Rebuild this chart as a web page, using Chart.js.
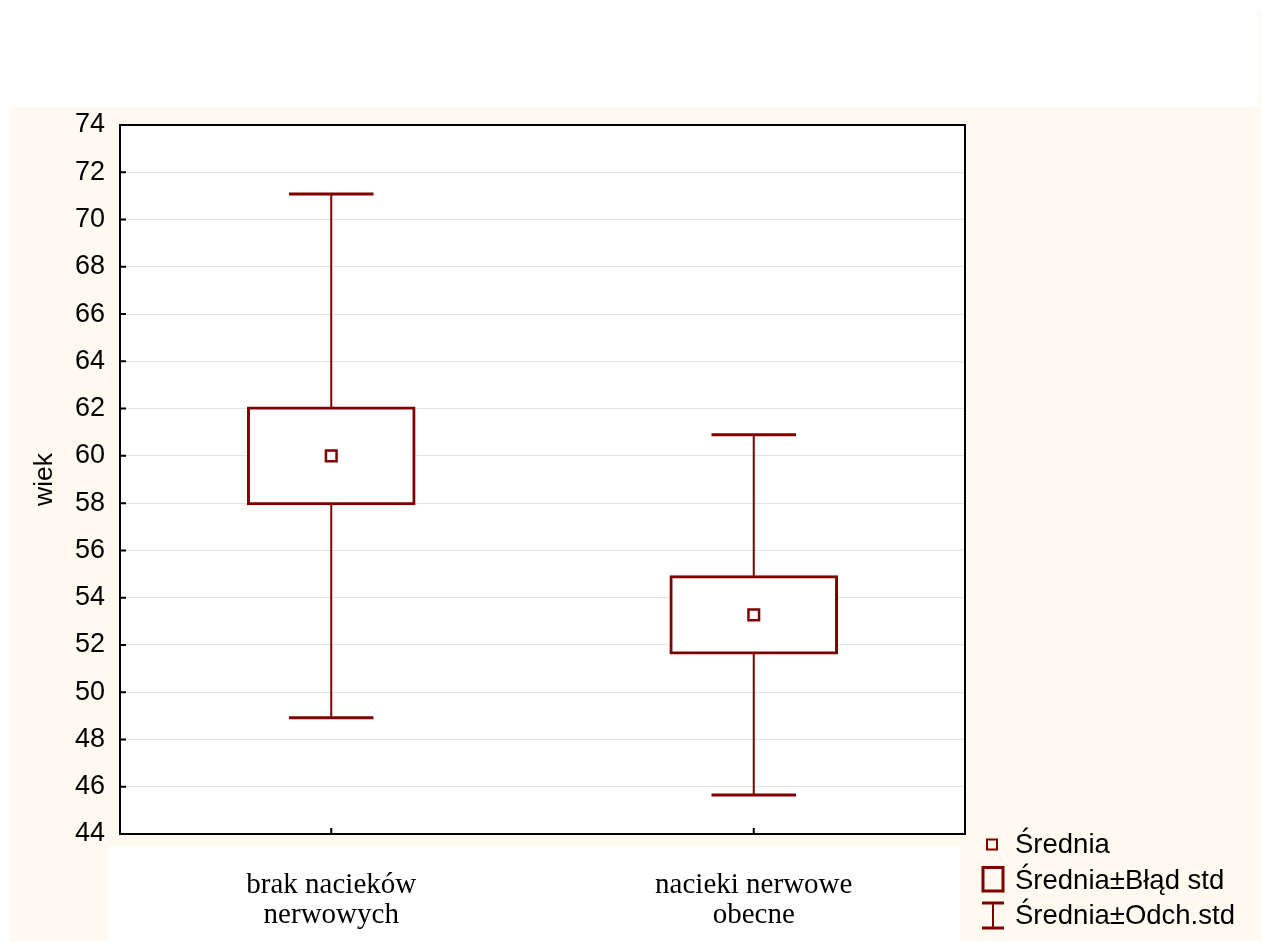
<!DOCTYPE html>
<html>
<head>
<meta charset="utf-8">
<script src="https://cdn.jsdelivr.net/npm/chart.js@4"></script>
<style>
  html, body { margin: 0; padding: 0; background: #ffffff; }
  canvas { display: block; }
</style>
</head>
<body>
<canvas id="c" width="1261" height="941"></canvas>
<script>
// Age by group: mean, standard error and standard deviation
const categories = [['brak nacieków', 'nerwowych'], ['nacieki nerwowe', 'obecne']];
const means = [60.0, 53.27];
const stdErr = [2.03, 1.61];
const stdDev = [11.08, 7.62];
const yTicks = [44, 46, 48, 50, 52, 54, 56, 58, 60, 62, 64, 66, 68, 70, 72, 74];
const legendLabels = ['Średnia', 'Średnia±Błąd std', 'Średnia±Odch.std'];

const MAROON = '#800000';
const CREAM = '#fffaf0';
const SANS = '"Liberation Sans", Arial, sans-serif';
const SERIF = '"Liberation Serif", "Times New Roman", serif';

const boxRanges = means.map((m, i) => [m - stdErr[i], m + stdErr[i]]);

// Page background panels behind the plot
const backdrop = {
  id: 'backdrop',
  beforeDraw(chart) {
    const ctx = chart.ctx;
    const W = chart.width, H = chart.height;
    const a = chart.chartArea;
    ctx.save();
    ctx.fillStyle = '#ffffff';
    ctx.fillRect(0, 0, W, H);
    ctx.fillStyle = CREAM;
    ctx.fillRect(11, 107, W - 11, H - 107);
    ctx.fillRect(W - 3, 10, 3, 97);
    ctx.fillStyle = '#ffffff';
    ctx.fillRect(108, 846, 852, H - 846);
    ctx.fillRect(a.left, a.top, a.right - a.left, a.bottom - a.top);
    ctx.restore();
  }
};

// Whiskers (mean ± SD) drawn under the boxes
const whiskers = {
  id: 'whiskers',
  beforeDatasetsDraw(chart) {
    const ctx = chart.ctx;
    const xs = chart.scales.x, ys = chart.scales.y;
    const capHalf = (xs.getPixelForValue(1) - xs.getPixelForValue(0)) * 0.1;
    ctx.save();
    ctx.strokeStyle = MAROON;
    means.forEach((m, i) => {
      const x = xs.getPixelForValue(i);
      const yHi = ys.getPixelForValue(m + stdDev[i]);
      const yLo = ys.getPixelForValue(m - stdDev[i]);
      ctx.lineWidth = 2;
      ctx.beginPath();
      ctx.moveTo(x, yHi);
      ctx.lineTo(x, yLo);
      ctx.stroke();
      ctx.lineWidth = 3;
      ctx.beginPath();
      ctx.moveTo(x - capHalf, yHi);
      ctx.lineTo(x + capHalf, yHi);
      ctx.moveTo(x - capHalf, yLo);
      ctx.lineTo(x + capHalf, yLo);
      ctx.stroke();
    });
    ctx.restore();
  }
};

// Plot frame, inward tick marks and the legend
const frameAndLegend = {
  id: 'frameAndLegend',
  afterDraw(chart) {
    const ctx = chart.ctx;
    const a = chart.chartArea;
    const xs = chart.scales.x, ys = chart.scales.y;
    ctx.save();
    ctx.strokeStyle = '#000000';
    ctx.lineWidth = 2;
    ctx.strokeRect(a.left, a.top, a.right - a.left, a.bottom - a.top);
    ctx.beginPath();
    yTicks.forEach(v => {
      const y = ys.getPixelForValue(v);
      ctx.moveTo(a.left, y);
      ctx.lineTo(a.left + 6, y);
    });
    categories.forEach((c, i) => {
      const x = xs.getPixelForValue(i);
      ctx.moveTo(x, a.bottom);
      ctx.lineTo(x, a.bottom - 6);
    });
    ctx.stroke();

    // legend
    ctx.strokeStyle = MAROON;
    ctx.lineWidth = 2;
    ctx.strokeRect(987, 839.5, 10, 10);
    ctx.lineWidth = 3;
    ctx.strokeRect(983, 867.5, 20, 23.5);
    ctx.beginPath();
    ctx.moveTo(982, 903); ctx.lineTo(1004, 903);
    ctx.moveTo(982, 928); ctx.lineTo(1004, 928);
    ctx.stroke();
    ctx.lineWidth = 2;
    ctx.beginPath();
    ctx.moveTo(993, 903); ctx.lineTo(993, 928);
    ctx.stroke();

    ctx.fillStyle = '#000000';
    ctx.font = '27.5px ' + SANS;
    ctx.textAlign = 'left';
    ctx.textBaseline = 'middle';
    const ly = [845, 881, 916];
    legendLabels.forEach((t, i) => ctx.fillText(t, 1015, ly[i]));
    ctx.restore();
  }
};

new Chart(document.getElementById('c'), {
  type: 'bar',
  data: {
    labels: categories,
    datasets: [
      {
        type: 'line',
        data: means,
        showLine: false,
        pointStyle: 'rect',
        pointRadius: 7.5,
        pointBorderWidth: 2.5,
        pointBackgroundColor: '#ffffff',
        pointBorderColor: MAROON,
        order: 0
      },
      {
        type: 'bar',
        data: boxRanges,
        backgroundColor: '#ffffff',
        borderColor: MAROON,
        borderWidth: 3,
        inflateAmount: 1.5,
        borderSkipped: false,
        categoryPercentage: 1,
        barPercentage: 0.392,
        order: 1
      }
    ]
  },
  options: {
    responsive: false,
    animation: false,
    devicePixelRatio: 1,
    layout: { padding: { left: 0, top: 125, right: 296, bottom: 0 } },
    plugins: { legend: { display: false }, tooltip: { enabled: false } },
    scales: {
      x: {
        offset: true,
        grid: { display: false, drawTicks: false },
        border: { display: true, color: '#000000', width: 2 },
        ticks: {
          color: '#000000',
          padding: 36,
          maxRotation: 0,
          font: { family: SERIF, size: 29, lineHeight: '30px' }
        },
        afterFit(scale) { scale.height = 107; }
      },
      y: {
        min: 44,
        max: 74,
        grid: { color: '#e2e2e2', lineWidth: 1, drawTicks: false },
        border: { display: true, color: '#000000', width: 2 },
        ticks: {
          stepSize: 2,
          color: '#000000',
          padding: 15,
          font: { family: SANS, size: 27 }
        },
        title: {
          display: true,
          text: 'wiek',
          color: '#000000',
          font: { family: SANS, size: 26.5 },
          padding: { top: 29, bottom: 0 }
        },
        afterFit(scale) { scale.width = 120; }
      }
    }
  },
  plugins: [backdrop, whiskers, frameAndLegend]
});
</script>
</body>
</html>
